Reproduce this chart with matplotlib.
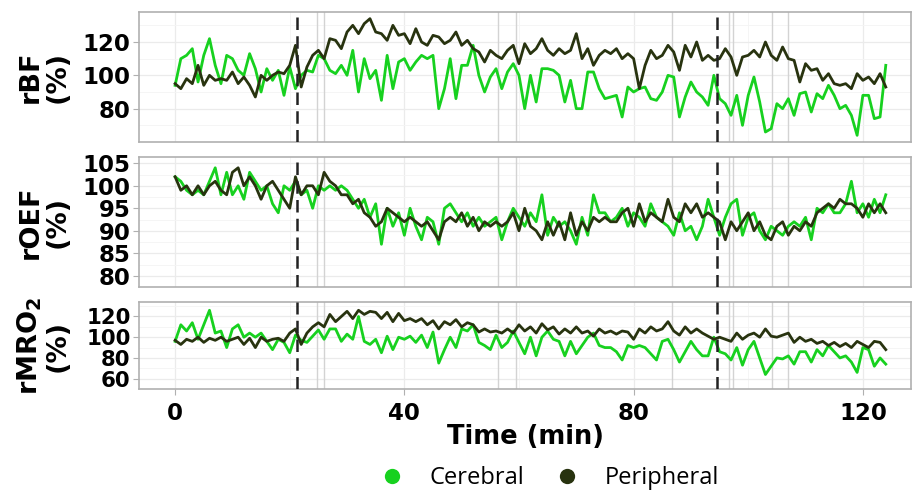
import numpy as np
import matplotlib
matplotlib.use("Agg")
import matplotlib.pyplot as plt
from matplotlib.lines import Line2D

# ---------- data (1 min steps) ----------
time_min = np.arange(0, 125)

rbf_cerebral = [
    94, 110, 112, 116, 96, 112, 122, 106, 95, 112, 110, 103, 100, 113, 104, 90, 104, 97, 103, 88,
    105, 92, 100, 103, 102, 112, 110, 103, 101, 106, 100, 115, 90, 110, 98, 103, 85, 112, 92, 108,
    110, 103, 108, 112, 110, 112, 80, 92, 110, 86, 106, 106, 118, 100, 90, 99, 104, 92, 102, 107,
    100, 80, 100, 84, 104, 104, 103, 100, 84, 97, 80, 80, 102, 102, 92, 86, 87, 88, 75, 93,
    90, 92, 93, 86, 85, 90, 100, 99, 75, 87, 96, 90, 87, 82, 100, 86, 83, 76, 88, 70,
    88, 99, 84, 66, 68, 83, 80, 86, 76, 89, 90, 78, 89, 86, 94, 88, 80, 82, 76, 64,
    88, 88, 74, 75, 106,
]
rbf_peripheral = [
    95, 92, 98, 95, 106, 94, 100, 97, 98, 97, 102, 95, 99, 94, 87, 100, 97, 100, 102, 101,
    106, 118, 93, 105, 112, 115, 110, 122, 121, 116, 126, 130, 125, 131, 134, 126, 125, 121, 130, 124,
    125, 119, 128, 120, 118, 124, 123, 119, 121, 126, 118, 121, 116, 114, 108, 115, 112, 110, 115, 118,
    107, 119, 113, 116, 122, 115, 112, 116, 113, 115, 125, 110, 116, 106, 112, 115, 113, 116, 110, 113,
    110, 92, 106, 115, 110, 112, 118, 114, 103, 118, 111, 120, 109, 112, 109, 110, 116, 111, 100, 111,
    112, 115, 111, 120, 112, 109, 117, 110, 109, 96, 107, 103, 104, 97, 101, 95, 94, 95, 92, 101,
    97, 99, 95, 101, 93,
]

roef_cerebral = [
    102, 101, 99, 98, 99, 98, 101, 104, 98, 103, 98, 100, 97, 103, 101, 99, 100, 96, 94, 100,
    99, 101, 98, 99, 95, 100, 99, 100, 99, 100, 99, 97, 95, 97, 93, 96, 87, 95, 91, 94,
    89, 95, 91, 88, 93, 92, 87, 95, 96, 94, 92, 94, 91, 93, 91, 92, 93, 88, 92, 95,
    93, 91, 94, 92, 98, 89, 93, 91, 92, 90, 87, 93, 89, 98, 94, 94, 92, 93, 95, 91,
    94, 93, 91, 96, 93, 92, 91, 89, 94, 90, 91, 88, 91, 97, 93, 89, 93, 96, 97, 89,
    93, 94, 90, 88, 91, 90, 89, 91, 92, 91, 93, 88, 95, 94, 96, 94, 94, 96, 101, 94,
    96, 93, 97, 94, 98,
]
roef_peripheral = [
    102, 99, 100, 98, 100, 98, 100, 101, 99, 98, 103, 104, 100, 102, 100, 97, 100, 101, 99, 97,
    95, 102, 98, 100, 100, 98, 103, 101, 100, 98, 98, 96, 97, 94, 93, 91, 92, 95, 94, 93,
    92, 93, 92, 91, 92, 90, 88, 92, 93, 92, 94, 91, 93, 90, 92, 91, 92, 91, 92, 94,
    90, 95, 91, 90, 88, 92, 89, 92, 88, 94, 89, 92, 90, 93, 92, 93, 92, 92, 94, 95,
    91, 96, 92, 94, 93, 92, 97, 93, 92, 96, 94, 96, 93, 94, 93, 92, 88, 92, 90, 92,
    94, 90, 92, 89, 88, 91, 92, 89, 91, 90, 92, 91, 94, 95, 96, 95, 97, 96, 96, 95,
    93, 96, 94, 96, 94,
]

rmro2_cerebral = [
    96, 112, 106, 114, 98, 112, 126, 104, 106, 90, 108, 112, 100, 104, 100, 104, 96, 88, 98, 95,
    85, 102, 97, 95, 101, 107, 98, 108, 108, 96, 103, 98, 120, 96, 93, 98, 85, 101, 88, 100,
    98, 101, 95, 102, 90, 105, 75, 88, 100, 90, 108, 106, 112, 95, 92, 88, 102, 90, 95, 106,
    95, 84, 100, 82, 100, 106, 98, 96, 82, 96, 84, 92, 100, 104, 92, 90, 90, 86, 78, 92,
    90, 92, 90, 84, 78, 96, 98, 88, 76, 86, 96, 88, 82, 82, 100, 86, 84, 78, 90, 73,
    88, 96, 80, 64, 72, 80, 79, 82, 74, 86, 86, 76, 88, 82, 92, 86, 80, 82, 76, 66,
    90, 88, 72, 80, 74,
]
rmro2_peripheral = [
    97, 93, 98, 96, 100, 95, 99, 97, 100, 96, 98, 100, 93, 99, 90, 100, 96, 98, 99, 96,
    104, 108, 93, 104, 110, 114, 110, 122, 115, 120, 125, 118, 126, 122, 125, 124, 118, 124, 115, 123,
    116, 118, 115, 118, 112, 116, 108, 115, 112, 117, 110, 114, 112, 105, 108, 105, 106, 104, 108, 104,
    112, 106, 110, 104, 113, 107, 110, 103, 108, 104, 110, 104, 106, 101, 108, 104, 106, 103, 106, 105,
    98, 108, 104, 110, 106, 108, 115, 106, 102, 110, 104, 108, 104, 101, 98, 100, 98, 96, 104, 98,
    102, 104, 100, 108, 101, 100, 102, 104, 95, 100, 96, 98, 94, 96, 92, 95, 91, 94, 90, 96,
    93, 90, 96, 95, 88,
]

# events (min)
dashed_events = [21.2, 94.5]
grey_events = [24.8, 26.0, 56.3, 59.5, 86.7, 96.7, 97.4, 104.1, 107.0]

# label, cerebral, peripheral, ylim, major ticks, minor step, tick font size
panels = [
    ("rBF\n(%)", rbf_cerebral, rbf_peripheral, (60, 138), [80, 100, 120], 10, 16.5),
    ("rOEF\n(%)", roef_cerebral, roef_peripheral, (79.9, 106.4), [80, 85, 90, 95, 100, 105], 2.5, 16.5),
    ("rMRO$_\\mathbf{2}$\n(%)", rmro2_cerebral, rmro2_peripheral, (55.5, 134), [60, 80, 100, 120], 10, 15.3),
]

GREEN = "#17d11f"
DARK = "#28330f"
W, H = 913, 493

fig = plt.figure(figsize=(W / 100, H / 100), dpi=100)
boxes = [(12, 142), (157, 287), (302, 389)]
axes = []
for (top, bot), (lab, cer, per, ylim, yticks, minor, fs) in zip(boxes, panels):
    ax = fig.add_axes([139 / W, 1 - bot / H, (911 - 139) / W, (bot - top) / H])
    ax.set_xlim(-6.3, 128.4)
    ax.set_ylim(*ylim)
    ax.set_yticks(yticks)
    ax.set_yticks(np.arange(yticks[0] - minor, ylim[1] + 0.01, minor), minor=True)
    ax.set_xticks([0, 40, 80, 120])
    ax.set_xticks([20, 60, 100], minor=True)
    ax.grid(True, which="major", color="#ebebeb", lw=0.9)
    ax.grid(True, which="minor", color="#f4f4f4", lw=0.6)
    ax.set_axisbelow(True)
    for t in grey_events:
        ax.axvline(t, color="#d3d3d3", lw=1.0, zorder=1)
    for t in dashed_events:
        ax.axvline(t, color="#222222", lw=1.8, ls=(0, (5, 2.5)), zorder=4)
    ax.plot(time_min, cer, color=GREEN, lw=2.0, zorder=2)
    ax.plot(time_min, per, color=DARK, lw=2.0, zorder=3)
    for s in ax.spines.values():
        s.set_color("#b0b0b0")
        s.set_linewidth(1.2)
    ax.tick_params(axis="both", which="major", length=4, color="#b0b0b0",
                   labelsize=16.5, pad=2)
    ax.tick_params(axis="y", which="major", labelsize=fs)
    ax.tick_params(axis="both", which="minor", length=0)
    for lbl in ax.get_yticklabels():
        lbl.set_fontweight("bold")
    ax.set_ylabel(lab, fontsize=19.5, fontweight="bold", linespacing=1.05)
    ax.yaxis.set_label_coords(-0.088, 0.5)
    axes.append(ax)

for ax in axes[:-1]:
    ax.tick_params(axis="x", labelbottom=False, length=0)

axes[-1].tick_params(axis="x", pad=5)
for lbl in axes[-1].get_xticklabels():
    lbl.set_fontweight("bold")
axes[-1].set_xlabel("Time (min)", fontsize=18.5, fontweight="bold", labelpad=0)

handles = [
    Line2D([], [], marker="o", ls="none", color=GREEN, markersize=11, markeredgewidth=0),
    Line2D([], [], marker="o", ls="none", color=DARK, markersize=11, markeredgewidth=0),
]
fig.legend(handles, ["Cerebral", "Peripheral"], loc="center",
           bbox_to_anchor=(0.602, 0.03), ncol=2, frameon=False,
           prop={"family": "Open Sans", "size": 17}, handletextpad=1.1,
           columnspacing=1.3, handlelength=1.0)

fig.savefig("out.png", dpi=100)
